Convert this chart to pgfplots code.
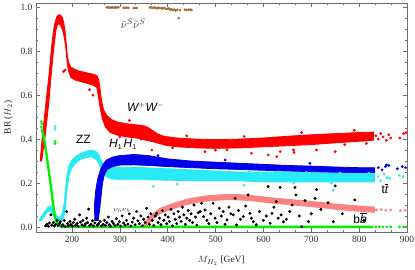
\documentclass[border=0pt]{standalone}
\usepackage{pgfplots}
\pgfplotsset{compat=1.18}
\usepackage{fontspec}
\setmainfont{Liberation Serif}
\newfontfamily\hv{Liberation Sans}
\definecolor{mred}{RGB}{255,0,0}
\definecolor{mblue}{RGB}{0,0,235}
\definecolor{mcyan}{RGB}{40,235,245}
\definecolor{mgreen}{RGB}{0,240,0}
\definecolor{mpink}{RGB}{250,130,130}
\definecolor{mbrown}{RGB}{160,110,55}
\definecolor{frame}{RGB}{110,110,110}
\begin{document}
\begin{tikzpicture}
\begin{axis}[
  scale only axis, width=371pt, height=229pt,
  xmin=125, xmax=900, ymin=-0.023, ymax=1.02,
  xtick={200,300,...,900}, ytick={0,0.2,0.4,0.6,0.8,1.0},
  minor x tick num=2, minor y tick num=3,
  tick align=inside, major tick length=4pt, minor tick length=2pt,
  axis line style={frame, line width=0.6pt},
  every tick/.style={frame, line width=0.5pt},
  tick label style={font=\fontsize{9.5}{10}\selectfont, text=black!80},
  xticklabel style={yshift=-1pt},
  /pgf/number format/assume math mode=true,
  yticklabel style={/pgf/number format/fixed, /pgf/number format/fixed zerofill, /pgf/number format/precision=1},
  xticklabel style={/pgf/number format/set thousands separator={}},
  xlabel={$M_{H_2}$ [GeV]}, ylabel={BR ($H_2$)},
  label style={font=\fontsize{9.5}{10}\selectfont, text=black!85},
  xlabel style={yshift=-6pt}, ylabel style={yshift=1pt},
  clip=true,
]
\coordinate (bl) at (rel axis cs:0,0);
\coordinate (tr) at (rel axis cs:1,1);
% sneutrino
\addplot[only marks, mark=*, mark size=1.1pt, mbrown, mark options={draw=mbrown, fill=mbrown}] coordinates {
(273,1.0)(276,1.0)(279,0.998)(282,1.0)(285,1.0)(288,0.999)(291,1.0)(294,1.0)(297,1.0)
(308,0.998)(311,0.998)(315,0.999)(318,0.998)
(329,0.997)(332,0.998)(336,0.997)
(363,0.999)(366,1.0)(369,0.998)(372,0.999)(375,0.998)(378,0.996)(381,0.998)(384,0.997)(387,0.996)(390,0.995)(393,0.997)(396,0.994)(399,0.993)(402,0.995)(405,0.99)(408,0.992)(411,0.988)(414,0.99)(417,0.986)(420,0.989)(423,0.951)(426,0.987)
(436,0.99)(439,0.988)(443,0.989)(447,0.99)(450,0.988)
};
% WW band
\addplot[mred, fill=mred, line width=0.8pt] coordinates {
(134,0.30)(136,0.36)(140,0.45)(144,0.53)(148,0.61)(152,0.69)(155,0.76)(158,0.83)(161,0.885)(164,0.925)(168,0.955)(172,0.966)(176,0.966)(180,0.955)(183,0.93)(186,0.89)(188,0.84)(190,0.79)(193,0.75)(198,0.728)(206,0.718)(215,0.71)(225,0.705)(235,0.70)(245,0.695)(252,0.69)(256,0.67)(259,0.625)(262,0.575)(266,0.535)(272,0.51)(282,0.49)(295,0.478)(315,0.47)(335,0.465)(352,0.46)(360,0.452)(368,0.44)(378,0.425)(392,0.413)(420,0.405)(460,0.40)(500,0.398)(550,0.40)(600,0.405)(650,0.413)(700,0.42)(750,0.425)(800,0.43)(830,0.432)
(830,0.395)(800,0.39)(750,0.383)(700,0.375)(650,0.37)(600,0.365)(550,0.36)(500,0.358)(460,0.36)(420,0.365)(395,0.372)(375,0.385)(355,0.395)(335,0.405)(315,0.41)(295,0.418)(280,0.43)(270,0.455)(264,0.49)(259,0.54)(255,0.6)(252,0.635)(245,0.645)(235,0.652)(222,0.66)(208,0.668)(198,0.68)(193,0.71)(190,0.75)(188,0.8)(185,0.85)(182,0.885)(178,0.91)(174,0.925)(170,0.922)(167,0.9)(164,0.85)(161,0.79)(158,0.72)(155,0.65)(152,0.57)(148,0.49)(144,0.41)(140,0.35)(137,0.30)
} --cycle;
\addplot[only marks, mark=*, mark size=1.2pt, mred, mark options={draw=mred, fill=mred}] coordinates {
(137,0.33)(140.7,0.366)(182.5,0.708)(186,0.715)(237,0.625)(244,0.60)
(300,0.41)(320,0.485)(345,0.40)(367,0.351)(410,0.36)(440,0.415)(478,0.343)(500,0.35)(524,0.351)(560,0.412)(575,0.336)(610,0.328)(628,0.32)(635,0.343)(663,0.351)(664,0.34)(680,0.43)(711,0.351)(750,0.343)(770,0.375)(790,0.44)(815,0.38)
(835,0.415)(840,0.40)(845,0.425)(850,0.41)(857,0.395)(862,0.42)(866,0.405)(885,0.405)(893,0.425)(898,0.43)
};
% ZZ band
\addplot[mcyan, fill=mcyan, line width=0.8pt] coordinates {
(133,0.035)(137,0.05)(143,0.07)(150,0.09)(156,0.095)(162,0.08)(168,0.05)(174,0.04)(180,0.06)(184,0.11)(187,0.18)(190,0.24)(194,0.28)(200,0.305)(210,0.325)(220,0.335)(230,0.345)(240,0.35)(250,0.345)(256,0.33)(262,0.30)(268,0.28)(280,0.275)(300,0.272)(350,0.27)(400,0.265)(450,0.26)(500,0.255)(550,0.25)(600,0.25)(650,0.25)(700,0.248)(750,0.245)(800,0.243)(832,0.243)
(832,0.205)(800,0.205)(750,0.205)(700,0.205)(650,0.205)(600,0.205)(550,0.21)(500,0.21)(450,0.21)(400,0.213)(350,0.215)(300,0.215)(280,0.22)(268,0.235)(262,0.255)(257,0.285)(252,0.305)(240,0.32)(230,0.315)(220,0.31)(210,0.295)(200,0.27)(195,0.24)(191,0.19)(188,0.12)(185,0.06)(180,0.03)(174,0.018)(168,0.025)(162,0.05)(156,0.07)(150,0.072)(143,0.05)(137,0.03)(133,0.025)
} --cycle;
\addplot[only marks, mark=*, mark size=1.2pt, mcyan, mark options={draw=mcyan, fill=mcyan}] coordinates {
(165,0.457)(165,0.445)(370,0.184)(420,0.195)(663,0.2)(742,0.2)(746,0.168)(560,0.19)
(840,0.23)(845,0.21)(852,0.24)(858,0.225)(864,0.22)(884,0.235)(892,0.23)
};
% H1H1 band
\addplot[mblue, fill=mblue, line width=0.8pt] coordinates {
(248,0.03)(247,0.10)(250,0.17)(254,0.22)(259,0.255)(265,0.285)(272,0.305)(285,0.318)(300,0.325)(330,0.33)(360,0.325)(400,0.31)(450,0.30)(500,0.295)(550,0.29)(600,0.285)(650,0.28)(700,0.277)(750,0.273)(800,0.27)(832,0.27)
(832,0.248)(800,0.248)(750,0.249)(700,0.252)(650,0.255)(600,0.258)(550,0.262)(500,0.265)(450,0.27)(400,0.275)(360,0.28)(330,0.283)(300,0.282)(285,0.275)(274,0.262)(268,0.24)(264,0.2)(261,0.14)(258,0.08)(255,0.03)
} --cycle;
\addplot[only marks, mark=*, mark size=1.2pt, mblue, mark options={draw=mblue, fill=mblue}] coordinates {
(454,0.29)(544,0.282)(697,0.29)(857,0.282)(520,0.305)(380,0.325)
(840,0.27)(848,0.26)(855,0.275)(862,0.28)(880,0.265)(890,0.275)(897,0.27)
};
% light cyan over blue edge
\addplot[only marks, mark=*, mark size=1.1pt, mcyan, mark options={draw=mcyan, fill=mcyan}] coordinates {
(330,0.26)(390,0.258)(450,0.255)(510,0.25)(570,0.252)(630,0.25)(690,0.249)(760,0.247)(820,0.246)
};
% tt band
\addplot[mpink, fill=mpink, line width=0.8pt] coordinates {
(349,0.008)(356,0.03)(363,0.045)(372,0.065)(385,0.085)(400,0.098)(420,0.113)(440,0.126)(460,0.135)(482,0.142)(520,0.148)(551,0.147)(575,0.143)(600,0.137)(621,0.132)(650,0.126)(683,0.12)(720,0.112)(753,0.104)(790,0.097)(823,0.092)(832,0.091)
(832,0.067)(823,0.068)(790,0.073)(753,0.08)(720,0.088)(683,0.096)(650,0.102)(621,0.108)(600,0.113)(575,0.119)(551,0.123)(520,0.124)(482,0.118)(460,0.111)(440,0.102)(420,0.089)(400,0.074)(385,0.061)(372,0.041)(363,0.02)(356,0.005)(352,-0.003)
} --cycle;
\addplot[only marks, mark=*, mark size=1.2pt, mpink, mark options={draw=mpink, fill=mpink}] coordinates {
(836,0.077)(846,0.079)(856,0.076)(866,0.078)(886,0.074)(896,0.076)
};
% bb
\addplot[mgreen, line width=2.4pt] coordinates {
(138,0.44)(142,0.40)(147,0.33)(152,0.25)(157,0.17)(161,0.10)(164,0.05)(167,0.025)(172,0.008)(180,0.0)(830,0.0)
};
\addplot[only marks, mark=*, mark size=1.2pt, mgreen, mark options={draw=mgreen, fill=mgreen}] coordinates {
(136,0.48)(137,0.47)(136.5,0.455)(137.5,0.44)(165,0.389)(165,0.38)
(835,0)(842,0)(850,0)(858,0)(866,0)(884,0)(893,0)(898,0)
};
% nu_h nu_h
\addplot[only marks, mark=*, mark size=1.3pt, black] coordinates {
(145,0.005)(148,0.012)(151,0.003)(153,0.018)(156,0.055)(158,0.008)(161,0.02)(163,0.004)(166,0.012)(169,0.03)(171,0.006)(174,0.015)(176,0.024)(179,0.004)(181,0.01)(184,0.03)(186,0.002)(189,0.07)(191,0.015)(193,0.005)(196,0.025)(198,0.011)(201,0.004)(203,0.02)(206,0.035)(208,0.008)(211,0.016)(213,0.003)(216,0.055)(218,0.022)(221,0.009)(223,0.03)(226,0.005)(228,0.014)(231,0.04)(233,0.02)(235,0.081)(237,0.006)(240,0.012)(243,0.028)(245,0.004)(248,0.018)(250,0.035)(253,0.008)(256,0.015)(259,0.025)(262,0.004)(265,0.012)(268,0.03)(270,0.007)(273,0.02)(276,0.045)(278,0.01)(281,0.003)(284,0.025)(287,0.015)(290,0.006)(293,0.038)(296,0.012)(299,0.024)(302,0.004)(305,0.05)(308,0.018)(311,0.008)(314,0.03)(317,0.013)(320,0.06)(323,0.004)(326,0.022)(329,0.04)(332,0.01)(335,0.07)(338,0.028)(341,0.015)(344,0.05)(347,0.005)(350,0.035)(353,0.02)(356,0.085)(359,0.045)(362,0.012)(365,0.06)(368,0.03)(371,0.007)(374,0.05)(377,0.062)(380,0.02)(383,0.04)(386,0.01)(389,0.075)(392,0.03)(395,0.055)(398,0.015)(401,0.045)(404,0.025)(407,0.08)(410,0.005)(413,0.06)(416,0.035)(419,0.015)(422,0.07)(425,0.045)(428,0.025)(431,0.09)(434,0.055)(437,0.012)(440,0.04)(443,0.075)(446,0.03)(449,0.06)(452,0.02)(455,0.1)(458,0.045)(461,0.008)(464,0.065)(468,0.07)(471,0.108)(475,0.047)(478,0.077)(482,0.03)(486,0.015)(490,0.06)(495,0.108)(499,0.04)(503,0.02)(508,0.085)(512,0.05)(516,0.07)(520,0.012)(524,0.032)(528,0.09)(532,0.06)(537,0.055)(541,0.13)(544,0.009)(548,0.075)(552,0.035)(558,0.047)(563,0.095)(568,0.146)(572,0.062)(575,0.04)(579,0.024)(585,0.01)(592,0.07)(600,0.03)(606,0.05)(610,0.184)(614,0.017)(618,0.062)(622,0.09)(627,0.115)(631,0.04)(635,0.18)(637,0.055)(642,0.024)(648,0.035)(655,0.07)(660,0.1)(666,0.18)(668,0.146)(675,0.05)(680,0.001)(687,0.12)(694,0.024)(700,0.06)(708,0.13)(711,0.17)(720,0.08)(735,0.11)(746,0.024)(750,0.187)(765,0.06)(791,0.123)(810,0.03)
};
\node[font=\fontsize{11}{12}\selectfont, text=black!80] at (axis cs:328,0.925) {$\tilde{\nu}^S\tilde{\nu}^S$};
\node[font=\hv\itshape\fontsize{12}{13}\selectfont] at (axis cs:354,0.547) {W$^{+}$W$^{-}$};
\node[font=\hv\fontsize{12}{13}\selectfont] at (axis cs:224,0.40) {ZZ};
\node[font=\hv\itshape\fontsize{12}{13}\selectfont] at (axis cs:306,0.374) {H{\upshape\scriptsize\raisebox{-2pt}{1}}\,H{\upshape\scriptsize\raisebox{-2pt}{1}}};
\node[font=\fontsize{7.5}{8}\selectfont, text=black!75] at (axis cs:305,0.077) {$\nu_h\nu_h$};
\node[font=\hv\fontsize{12}{13}\selectfont] at (axis cs:854,0.176) {t\itshape$\overline{\mbox{t}}$};
\node[font=\hv\fontsize{12}{13}\selectfont] at (axis cs:802,0.04) {b\itshape$\overline{\mbox{b}}$};
\end{axis}
\pgfresetboundingbox
\path ([xshift=-36pt,yshift=-38pt]bl) rectangle ([xshift=8pt,yshift=3pt]tr);
\end{tikzpicture}
\end{document}
